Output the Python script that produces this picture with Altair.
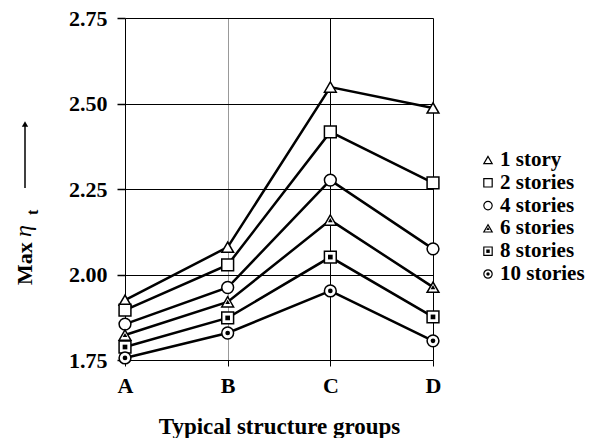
import altair as alt
import pandas as pd

groups = ["A", "B", "C", "D"]
series = ["1 story", "2 stories", "4 stories", "6 stories", "8 stories", "10 stories"]
v1 = [1.925, 2.080, 2.548, 2.487]
v2 = [1.896, 2.028, 2.417, 2.268]
v4 = [1.855, 1.962, 2.276, 2.075]
v6 = [1.823, 1.920, 2.159, 1.963]
v8 = [1.788, 1.873, 2.051, 1.876]
v10 = [1.756, 1.829, 1.952, 1.806]
all_vals = [v1, v2, v4, v6, v8, v10]
outer_shapes = ["triangle-up", "square", "circle", "triangle-up", "square", "circle"]
inner_series = ["6 stories", "8 stories", "10 stories"]
y_ticks = [1.75, 2.00, 2.25, 2.50, 2.75]

rows = []
for s, vals in zip(series, all_vals):
    for g, v in zip(groups, vals):
        rows.append({"group": g, "value": v, "series": s})
df = pd.DataFrame(rows)
df_inner = df[df["series"].isin(inner_series)]
leg = pd.DataFrame({"series": series})
leg_inner = pd.DataFrame({"series": inner_series})

FONT = "Liberation Serif"

x_enc = alt.X("group:N", scale=alt.Scale(type="point", padding=0, domain=groups),
              axis=alt.Axis(title="Typical structure groups", labelAngle=0,
                            labelFont=FONT, labelFontSize=22, labelFontWeight="bold",
                            labelColor="black", labelPadding=9, tickSize=6,
                            tickColor="black", tickWidth=1,
                            titleFont=FONT, titleFontSize=23, titleFontWeight="bold",
                            titleColor="black", titlePadding=19,
                            grid=True, gridWidth=1,
                            gridColor={"condition": {"test": "datum.value === 'B'", "value": "#999999"},
                                       "value": "#000000"},
                            domain=False))
y_scale = alt.Scale(domain=[1.75, 2.75], nice=False, zero=False)
y_enc = alt.Y("value:Q", scale=y_scale,
              axis=alt.Axis(title=None, values=y_ticks, format=".2f",
                            labelFont=FONT, labelFontSize=22, labelFontWeight="bold",
                            labelColor="black", labelPadding=10, tickSize=8,
                            tickColor="black", tickWidth=1.5,
                            grid=True, gridColor="black", gridWidth=1, domain=False))

lines = alt.Chart(df).mark_line(color="black", strokeWidth=2.5).encode(
    x=x_enc, y=y_enc, detail="series:N")
outer = alt.Chart(df).mark_point(filled=True, fill="white", stroke="black",
                                 strokeWidth=1.5, size=140, opacity=1).encode(
    x="group:N", y="value:Q",
    shape=alt.Shape("series:N", scale=alt.Scale(domain=series, range=outer_shapes), legend=None))
inner = alt.Chart(df_inner).mark_point(filled=True, color="black", size=22, opacity=1).encode(
    x="group:N", y="value:Q",
    shape=alt.Shape("series:N", scale=alt.Scale(domain=series, range=outer_shapes), legend=None))

main = alt.layer(lines, outer, inner)

leg_y = alt.Y("series:N", scale=alt.Scale(type="point", padding=0, domain=series, range=[142, 256]),
              axis=None)
leg_outer = alt.Chart(leg).mark_point(filled=True, fill="white", stroke="black",
                                      strokeWidth=1.2, size=70, opacity=1).encode(
    x=alt.value(363), y=leg_y,
    shape=alt.Shape("series:N", scale=alt.Scale(domain=series, range=outer_shapes), legend=None))
leg_inner_m = alt.Chart(leg_inner).mark_point(filled=True, color="black", size=12, opacity=1).encode(
    x=alt.value(363), y=leg_y,
    shape=alt.Shape("series:N", scale=alt.Scale(domain=series, range=outer_shapes), legend=None))
leg_text = alt.Chart(leg).mark_text(align="left", baseline="middle", font=FONT,
                                    fontSize=21, fontWeight="bold", color="black").encode(
    x=alt.value(375), y=leg_y, text="series:N")
legend = alt.layer(leg_outer, leg_inner_m, leg_text)

# y-axis title: "Max η_t" with upward arrow
t_max = alt.Chart(pd.DataFrame({"t": ["Max"]})).mark_text(
    angle=270, align="left", baseline="middle", font=FONT, fontSize=22,
    fontWeight="bold", color="black").encode(x=alt.value(-100), y=alt.value(267), text="t:N")
t_eta = alt.Chart(pd.DataFrame({"t": ["η"]})).mark_text(
    angle=270, align="left", baseline="middle", font=FONT, fontSize=24,
    fontStyle="italic", color="black").encode(x=alt.value(-101), y=alt.value(219), text="t:N")
t_sub = alt.Chart(pd.DataFrame({"t": ["t"]})).mark_text(
    angle=270, align="left", baseline="middle", font=FONT, fontSize=16,
    fontWeight="bold", color="black").encode(x=alt.value(-92), y=alt.value(197), text="t:N")
arrow_line = alt.Chart(pd.DataFrame({"a": [0]})).mark_rule(color="black", strokeWidth=1.5).encode(
    x=alt.value(-100), y=alt.value(170), y2=alt.value(108))
arrow_head = alt.Chart(pd.DataFrame({"a": [0]})).mark_point(
    shape="triangle-up", filled=True, color="black", size=40, opacity=1).encode(
    x=alt.value(-100), y=alt.value(106))
ytitle = alt.layer(t_max, t_eta, t_sub, arrow_line, arrow_head)

chart = alt.layer(main, legend, ytitle).resolve_scale(y="independent").properties(
    width=308, height=342,
    autosize=alt.AutoSizeParams(type="none"),
    padding={"left": 117, "top": 10, "right": 154, "bottom": 78},
).configure_view(stroke="black", strokeWidth=2.5).configure(background="white")

chart.save("out.html", embed_options={"renderer": "svg", "actions": False})
